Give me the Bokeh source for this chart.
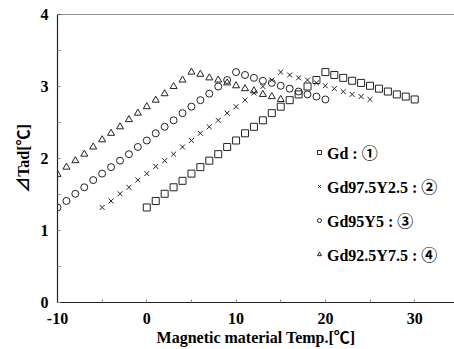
from bokeh.plotting import figure
from bokeh.models import Range1d, FixedTicker, Span, Legend, LegendItem
from bokeh.embed import file_html
from bokeh.resources import INLINE

# Data
gd_x = list(range(0, 31))
gd_y = [1.32, 1.41, 1.51, 1.60, 1.69, 1.79, 1.88, 1.97, 2.06, 2.16, 2.25, 2.35, 2.44, 2.53, 2.63,
        2.72, 2.81, 2.89, 3.00, 3.09, 3.20, 3.16, 3.12, 3.08, 3.05, 3.01, 2.97, 2.93, 2.89, 2.86, 2.82]

y25_x = list(range(-5, 26))
y25_y = [1.32, 1.41, 1.51, 1.60, 1.70, 1.79, 1.89, 1.97, 2.06, 2.16, 2.25, 2.35, 2.44, 2.53, 2.63,
         2.72, 2.81, 2.91, 3.00, 3.09, 3.20, 3.16, 3.12, 3.09, 3.05, 3.01, 2.97, 2.93, 2.89, 2.86, 2.82]

y5_x = list(range(-10, 21))
y5_y = [1.32, 1.41, 1.51, 1.60, 1.70, 1.79, 1.88, 1.97, 2.06, 2.16, 2.25, 2.35, 2.44, 2.53, 2.63,
        2.72, 2.81, 2.90, 3.00, 3.09, 3.20, 3.16, 3.12, 3.08, 3.05, 3.01, 2.97, 2.93, 2.89, 2.86, 2.82]

y75_x = list(range(-10, 16))
y75_y = [1.78, 1.88, 1.97, 2.06, 2.16, 2.26, 2.35, 2.44, 2.54, 2.63, 2.72, 2.81, 2.90, 3.00, 3.09,
         3.20, 3.17, 3.12, 3.09, 3.05, 3.01, 2.97, 2.94, 2.89, 2.86, 2.82]

labels = ["Gd : \u2460", "Gd97.5Y2.5 : \u2461", "Gd95Y5 : \u2462", "Gd92.5Y7.5 : \u2463"]
x_ticks = [-10, 0, 10, 20, 30]
x_tick_labels = ["-10", "0", "10", "20", "30"]
x_minor = [-5, 5, 15, 25, 35]
y_ticks = [0, 1, 2, 3, 4]
y_minor = [0.5, 1.5, 2.5, 3.5]

FONT = "'Liberation Serif', 'Times New Roman', 'Noto Sans CJK JP', serif"
INK = "#222222"

p = figure(width=454, height=349, output_backend="svg", toolbar_location=None,
           x_range=Range1d(-10, 34.46), y_range=Range1d(0, 4),
           min_border_left=57, min_border_right=0, min_border_top=14, min_border_bottom=47)
p.outline_line_color = None
p.xgrid.visible = False
p.ygrid.visible = False
p.background_fill_color = "white"

r1 = p.scatter(gd_x, gd_y, marker="square", size=7, fill_color=None, line_color=INK, line_width=1)
r2 = p.scatter(y25_x, y25_y, marker="x", size=7, line_color=INK, line_width=1)
r3 = p.scatter(y5_x, y5_y, marker="circle", size=7, fill_color=None, line_color=INK, line_width=1)
r4 = p.scatter(y75_x, y75_y, marker="triangle", size=7, fill_color=None, line_color=INK, line_width=1)

p.add_layout(Span(location=4, dimension="width", line_color=INK, line_width=1.2))

for ax in (p.xaxis[0], p.yaxis[0]):
    ax.axis_line_color = INK
    ax.axis_line_width = 1.2
    ax.major_tick_in = 3
    ax.major_tick_out = 0
    ax.minor_tick_in = 3
    ax.minor_tick_out = 0
    ax.major_tick_line_color = "#888888"
    ax.minor_tick_line_color = "#888888"
    ax.major_label_text_font = FONT
    ax.major_label_text_font_style = "bold"
    ax.major_label_text_font_size = "16px"
    ax.major_label_text_color = "black"
    ax.axis_label_text_font = FONT
    ax.axis_label_text_font_style = "bold"
    ax.axis_label_text_font_size = "16px"
    ax.axis_label_text_color = "black"

p.xaxis.ticker = FixedTicker(ticks=x_ticks, minor_ticks=x_minor)
p.xaxis.major_label_overrides = {t: s for t, s in zip(x_ticks, x_tick_labels)}
p.yaxis.ticker = FixedTicker(ticks=y_ticks, minor_ticks=y_minor)
p.xaxis.axis_label = "Magnetic material Temp.[\u2103]"
p.yaxis.axis_label = "\u22bfTad[\u2103]"
p.xaxis.major_label_standoff = 10
p.xaxis.axis_label_standoff = 2
p.yaxis.major_label_standoff = 9
p.yaxis.axis_label_standoff = 6

legend = Legend(items=[LegendItem(label=labels[0], renderers=[r1]),
                       LegendItem(label=labels[1], renderers=[r2]),
                       LegendItem(label=labels[2], renderers=[r3]),
                       LegendItem(label=labels[3], renderers=[r4])],
                location=(257, 36))
legend.background_fill_alpha = 0
legend.border_line_color = None
legend.label_text_font = FONT
legend.label_text_font_style = "bold"
legend.label_text_font_size = "16px"
legend.label_text_color = "black"
legend.glyph_width = 10
legend.glyph_height = 12
legend.label_standoff = 3
legend.spacing = 10
legend.padding = 0
legend.margin = 0
p.add_layout(legend)

open("out.html", "w").write(file_html(p, INLINE))
